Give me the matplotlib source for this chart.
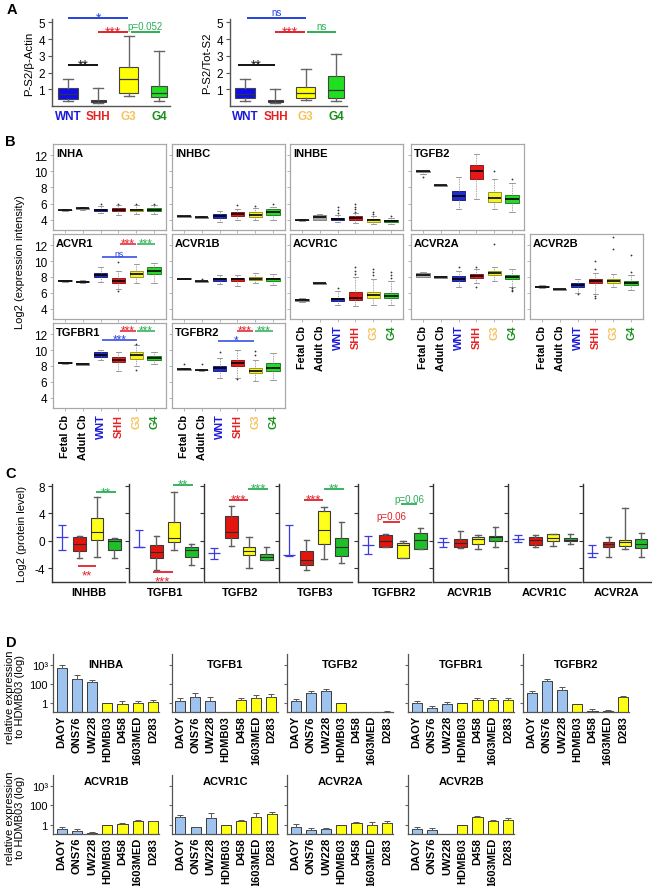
import numpy as np
import matplotlib
matplotlib.use('Agg')
import matplotlib.pyplot as plt
from matplotlib.transforms import offset_copy

plt.rcParams['font.family'] = ['Liberation Sans', 'DejaVu Sans']
plt.rcParams['axes.linewidth'] = 0.8

W, H = 652, 887
fig = plt.figure(figsize=(W / 100, H / 100), dpi=100)


def add_ax(x0, y0, x1, y1):
    return fig.add_axes([x0 / W, 1 - y1 / H, (x1 - x0) / W, (y1 - y0) / H])


def ftext(x, y, s, **kw):
    fig.text(x / W, 1 - y / H, s, **kw)


def to_stats(tuples, fliers=None):
    out = []
    for i, (lo, q1, med, q3, hi) in enumerate(tuples):
        fl = fliers[i] if fliers is not None else []
        out.append(dict(whislo=lo, q1=q1, med=med, q3=q3, whishi=hi,
                        fliers=np.array(fl, dtype=float)))
    return out


SIGC = {'black': '#111111', 'blue': '#2443e0', 'red': '#e3202a', 'green': '#2aae55'}


def sig(ax, x0, x1, y, text, color, fs=8, dy=-3, lw=1.2):
    c = SIGC[color]
    ax.plot([x0, x1], [y, y], color=c, lw=lw, clip_on=False, solid_capstyle='butt')
    tr = offset_copy(ax.transData, fig=fig, x=0, y=dy, units='points')
    ax.text((x0 + x1) / 2, y, text, color=c, fontsize=fs, ha='center', va='baseline',
            transform=tr, clip_on=False)


# ---------------------------------------------------------------- panel A data
A_groups = ['WNT', 'SHH', 'G3', 'G4']
A_label_colors = ['#1a1adb', '#e32424', '#f6c35b', '#1b8f1b']
A_box_colors = ['#0d0df0', '#9b1c1c', '#ffff00', '#1fe01f']
A_actin = [(0.30, 0.42, 0.72, 1.05, 1.62), (0.15, 0.25, 0.30, 0.36, 1.05),
           (0.60, 0.80, 1.62, 2.35, 4.20), (0.28, 0.55, 0.80, 1.20, 3.30)]
A_tot = [(0.30, 0.45, 0.72, 1.05, 1.62), (0.15, 0.25, 0.30, 0.36, 1.02),
         (0.35, 0.50, 0.75, 1.12, 2.22), (0.30, 0.50, 0.95, 1.80, 3.10)]
A_yticks = [1, 2, 3, 4, 5]
A_ylabels = ['P-S2/β-Actin', 'P-S2/Tot-S2']
A_sig_actin = [(1.0, 1.99, 2.45, '**', 'black'), (1.0, 2.99, 5.28, '*', 'blue'),
               (1.98, 2.99, 4.44, '***', 'red'), (3.06, 4.04, 4.44, 'p=0.052', 'green')]
A_sig_tot = [(0.75, 2.0, 2.45, '**', 'black'), (1.05, 3.02, 5.28, 'ns', 'blue'),
             (1.99, 2.98, 4.44, '***', 'red'), (3.04, 4.0, 4.44, 'ns', 'green')]

# ---------------------------------------------------------------- panel B data
B_groups = ['Fetal Cb', 'Adult Cb', 'WNT', 'SHH', 'G3', 'G4']
B_label_colors = ['black', 'black', '#1a1adb', '#e32424', '#f6c35b', '#1b8f1b']
B_box_colors = ['#b8b8b8', '#a8a8a8', '#1f2fcf', '#e81818', '#f2f224', '#2bd62b']
B_edge_colors = ['#777777', '#777777', '#10106e', '#7a0b0b', '#8a8a10', '#137013']
B_yticks = [4, 6, 8, 10, 12]

B_INHA = [(5.05, 5.15, 5.2, 5.25, 5.3), (5.25, 5.32, 5.4, 5.48, 5.55), (4.8, 5.05, 5.2, 5.35, 5.75),
          (4.6, 5.1, 5.25, 5.4, 5.85), (4.75, 5.1, 5.2, 5.35, 5.85), (4.7, 5.1, 5.25, 5.4, 5.85)]
B_INHBC = [(4.3, 4.35, 4.42, 4.47, 4.5), (4.15, 4.22, 4.3, 4.35, 4.4), (3.75, 4.17, 4.4, 4.7, 5.1),
           (3.9, 4.4, 4.65, 4.9, 5.3), (3.9, 4.3, 4.55, 4.9, 5.4), (4.0, 4.6, 4.9, 5.35, 5.6)]
B_INHBE = [(3.85, 3.9, 3.95, 4.0, 4.05), (3.9, 4.0, 4.3, 4.6, 4.7), (3.7, 3.9, 4.05, 4.25, 4.6),
           (3.6, 3.9, 4.15, 4.4, 4.8), (3.5, 3.75, 3.9, 4.05, 4.4), (3.5, 3.75, 3.85, 3.95, 4.2)]
B_TGFB2 = [(9.7, 9.9, 10.0, 10.05, 10.1), (8.15, 8.2, 8.25, 8.3, 8.35), (5.3, 6.5, 7.0, 7.6, 9.3),
           (6.6, 9.0, 10.05, 10.8, 12.1), (5.3, 6.2, 6.7, 7.5, 9.1), (5.0, 6.1, 6.6, 7.1, 8.5)]
B_ACVR1 = [(7.4, 7.48, 7.52, 7.58, 7.65), (7.25, 7.35, 7.42, 7.5, 7.6), (7.4, 7.95, 8.2, 8.55, 9.2),
           (6.5, 7.2, 7.5, 7.85, 8.7), (7.2, 8.05, 8.35, 8.7, 9.6), (7.2, 8.35, 8.7, 9.2, 9.8)]
B_ACVR1B = [(7.7, 7.75, 7.8, 7.85, 7.9), (7.35, 7.42, 7.45, 7.5, 7.55), (7.1, 7.5, 7.7, 7.85, 8.3),
            (6.9, 7.5, 7.7, 7.9, 8.3), (7.3, 7.6, 7.8, 8.0, 8.5), (7.0, 7.5, 7.7, 7.85, 8.4)]
B_ACVR1C = [(4.85, 4.95, 5.1, 5.2, 5.3), (7.15, 7.18, 7.2, 7.22, 7.25), (4.5, 5.0, 5.2, 5.4, 6.3),
            (4.4, 5.1, 5.4, 6.05, 8.0), (4.5, 5.4, 5.7, 6.1, 7.8), (4.5, 5.3, 5.65, 6.0, 7.5)]
B_ACVR2A = [(8.0, 8.05, 8.3, 8.55, 8.6), (7.85, 7.9, 8.0, 8.1, 8.15), (6.8, 7.5, 7.8, 8.1, 8.8),
            (7.2, 7.9, 8.1, 8.4, 9.0), (7.5, 8.2, 8.5, 8.75, 9.2), (6.8, 7.7, 8.0, 8.3, 9.0)]
B_ACVR2B = [(6.6, 6.7, 6.8, 6.9, 6.95), (6.35, 6.4, 6.45, 6.5, 6.55), (6.0, 6.7, 7.0, 7.2, 7.7),
            (5.9, 7.2, 7.5, 7.8, 8.5), (6.7, 7.2, 7.5, 7.8, 8.4), (6.4, 7.0, 7.2, 7.5, 8.3)]
B_TGFBR1 = [(8.3, 8.35, 8.4, 8.45, 8.5), (8.1, 8.18, 8.25, 8.32, 8.4), (8.7, 9.1, 9.4, 9.7, 10.0),
            (7.4, 8.5, 8.7, 9.1, 9.8), (8.0, 8.9, 9.35, 9.8, 10.6), (8.2, 8.8, 9.0, 9.3, 9.8)]
B_TGFBR2 = [(7.45, 7.5, 7.6, 7.65, 7.7), (7.4, 7.45, 7.5, 7.55, 7.6), (6.5, 7.4, 7.7, 8.0, 9.0),
            (6.5, 8.0, 8.4, 8.8, 10.0), (6.1, 7.1, 7.4, 7.8, 8.8), (6.2, 7.4, 7.8, 8.4, 9.6)]

B_INHA_out = [[], [], [5.9], [5.95], [5.95], [5.95]]
B_INHBC_out = [[], [], [], [5.8], [5.7], [5.95]]
B_INHBE_out = [[], [], [4.8, 5.2, 5.6], [5.0, 5.3, 5.6, 5.9], [4.7, 5.0], [4.4]]
B_TGFB2_out = [[9.3], [], [], [], [10.1], [9.0]]
B_ACVR1_out = [[], [], [], [9.9, 6.3], [], []]
B_ACVR1B_out = [[], [7.75], [], [], [], []]
B_ACVR1C_out = [[], [], [6.6], [8.4, 8.8, 9.2], [8.2, 8.6, 9.0], [7.9, 8.3, 8.6]]
B_ACVR2A_out = [[], [], [9.2], [9.3, 6.7], [12.2], [6.6, 6.4, 6.2]]
B_ACVR2B_out = [[], [], [5.8], [9.0, 10.0, 5.6, 5.4], [11.5, 13.0], [8.6, 10.8]]
B_TGFBR1_out = [[], [], [], [], [7.5, 10.8], []]
B_TGFBR2_out = [[8.2], [8.2], [9.8], [6.4], [9.9, 9.4], []]

B_genes = ['INHA', 'INHBC', 'INHBE', 'TGFB2', 'ACVR1', 'ACVR1B', 'ACVR1C', 'ACVR2A', 'ACVR2B',
           'TGFBR1', 'TGFBR2']
B_data = [B_INHA, B_INHBC, B_INHBE, B_TGFB2, B_ACVR1, B_ACVR1B, B_ACVR1C, B_ACVR2A, B_ACVR2B,
          B_TGFBR1, B_TGFBR2]
B_out = [B_INHA_out, B_INHBC_out, B_INHBE_out, B_TGFB2_out, B_ACVR1_out, B_ACVR1B_out,
         B_ACVR1C_out, B_ACVR2A_out, B_ACVR2B_out, B_TGFBR1_out, B_TGFBR2_out]
B_sig = [('ACVR1', 3.06, 5.03, 10.55, 'ns', 'blue'), ('ACVR1', 4.09, 4.97, 12.15, '***', 'red'),
         ('ACVR1', 5.05, 6.06, 12.15, '***', 'green'),
         ('TGFBR1', 3.06, 5.03, 11.25, '***', 'blue'), ('TGFBR1', 4.09, 4.97, 12.4, '***', 'red'),
         ('TGFBR1', 5.05, 6.06, 12.4, '***', 'green'),
         ('TGFBR2', 2.93, 4.95, 11.16, '*', 'blue'), ('TGFBR2', 3.95, 4.9, 12.4, '***', 'red'),
         ('TGFBR2', 5.0, 5.97, 12.4, '***', 'green')]

# ---------------------------------------------------------------- panel C data
C_genes = ['INHBB', 'TGFB1', 'TGFB2', 'TGFB3', 'TGFBR2', 'ACVR1B', 'ACVR1C', 'ACVR2A']
C_yticks = [-4, 0, 4, 8]
C_blue_top = [2.3, 1.6, -1.07, 2.3, 0.64, 0.35, 0.83, -0.63]
C_blue_mid = [0.5, -0.85, -1.8, -2.1, -0.63, -0.24, 0.25, -1.8]
C_blue_bot = [-1.3, -0.9, -2.7, -2.25, -1.95, -0.88, -0.2, -2.44]
C_SHH = [(-2.6, -1.46, -0.48, 0.5, 0.73), (-4.25, -2.58, -1.6, -0.58, 0.64),
         (-0.73, 0.4, 1.22, 3.57, 5.1), (-4.3, -3.56, -2.83, -1.46, 0.1),
         (-0.97, -0.97, 0.0, 0.83, 0.98), (-1.1, -0.97, -0.3, 0.25, 1.37),
         (-0.97, -0.58, 0.15, 0.5, 0.83), (-2.44, -0.97, -0.5, -0.15, 0.58)]
C_G3 = [(-2.44, 0.15, 1.22, 3.28, 6.35), (-1.36, -0.24, 0.35, 2.7, 7.2),
        (-4.05, -2.1, -1.46, -0.87, 0.5), (-2.68, -0.48, 1.56, 4.3, 4.9),
        (-2.53, -2.53, -0.6, -0.38, 0.0), (-1.2, -0.48, 0.25, 0.58, 0.83),
        (-0.73, -0.1, 0.4, 0.98, 1.0), (-1.2, -0.73, -0.2, 0.15, 4.74)]
C_G4 = [(-2.5, -1.3, -0.05, 0.25, 0.35), (-3.56, -2.44, -1.3, -0.97, -0.48),
        (-2.8, -2.78, -2.34, -1.95, -0.88), (-3.3, -2.2, -0.98, 0.4, 2.8),
        (-1.25, -1.22, 0.15, 1.13, 1.8), (-0.97, 0.0, 0.58, 0.73, 2.05),
        (-0.48, -0.1, 0.15, 0.4, 1.0), (-2.44, -1.07, -0.5, 0.25, 1.2)]
C_box_colors = ['#e3150f', '#ffff1a', '#1fbf2a']
C_sig = [(0, 1.9, 2.97, -3.75, '**', 'red', True), (0, 2.97, 4.1, 7.1, '**', 'green', False),
         (1, 1.8, 2.93, -4.6, '***', 'red', True), (1, 2.93, 4.07, 8.15, '**', 'green', False),
         (2, 1.87, 2.95, 6.0, '***', 'red', False), (2, 2.95, 4.08, 7.57, '***', 'green', False),
         (3, 1.85, 2.95, 6.0, '***', 'red', False), (3, 2.99, 4.12, 7.57, '**', 'green', False),
         (4, 1.87, 2.82, 2.78, 'p=0.06', 'red', False), (4, 2.91, 3.8, 5.37, 'p=0.06', 'green', False)]

# ---------------------------------------------------------------- panel D data
D_cells = ['DAOY', 'ONS76', 'UW228', 'HDMB03', 'D458', '1603MED', 'D283']
D_bar_colors = ['#9dc3ee', '#9dc3ee', '#9dc3ee', '#ffff14', '#ffff14', '#ffff14', '#ffff14']
D_yticks = [1, 100, 1e4]
D_yticklabels = ['1', '100', '10³']
nan = np.nan
D_genes_top = ['INHBA', 'TGFB1', 'TGFB2', 'TGFBR1', 'TGFBR2']
D_genes_bot = ['ACVR1B', 'ACVR1C', 'ACVR2A', 'ACVR2B']
D_INHBA = [4700, 320, 160, 1.0, 0.85, 1.0, 1.5]
D_INHBA_err = [10000, 800, 280, nan, 1.6, 1.65, 2.2]
D_TGFB1 = [1.6, 4.8, 1.6, nan, 2.2, 3.3, 4.2]
D_TGFB1_err = [3.5, 11.7, 4.2, nan, 3.5, 7.2, 9.1]
D_TGFB2 = [1.85, 10.7, 20, 1.0, nan, nan, 0.13]
D_TGFB2_err = [2.7, 17, 30, nan, nan, nan, 0.16]
D_TGFBR1 = [1.07, 0.33, 0.8, 1.0, 2.2, 2.2, 2.0]
D_TGFBR1_err = [1.6, 0.56, 1.5, nan, 3.2, 3.8, 3.2]
D_TGFBR2 = [10.7, 220, 26, 0.8, 0.17, 0.15, 4.8]
D_TGFBR2_err = [17, 316, 52, nan, 0.25, 0.22, 5.2]
D_ACVR1B = [0.39, 0.26, 0.16, 1.0, 1.17, 2.2, 2.2]
D_ACVR1B_err = [0.58, 0.39, 0.2, nan, 1.38, 2.8, 2.6]
D_ACVR1C = [5.8, 0.58, 4.9, 1.0, 2.2, 6.8, 12.6]
D_ACVR1C_err = [11, 0.63, 16, nan, 3.0, 16, 20]
D_ACVR2A = [0.58, 0.3, 0.35, 1.0, 1.38, 1.0, 1.5]
D_ACVR2A_err = [1.17, 0.52, 0.52, nan, 1.74, 1.9, 2.2]
D_ACVR2B = [0.39, 0.3, nan, 1.0, 6.2, 2.2, 3.3]
D_ACVR2B_err = [0.58, 0.45, nan, nan, 7.2, 3.5, 5.2]

# ================================================================= draw A
A_pos = [1, 2, 3, 4]
A_widths = [0.65, 0.52, 0.62, 0.55]
for k, (x0, x1, stats, sigs) in enumerate([(52, 170, A_actin, A_sig_actin),
                                           (230, 347, A_tot, A_sig_tot)]):
    ax = add_ax(x0, 20, x1, 107)
    bp = ax.bxp(to_stats(stats), positions=A_pos, widths=A_widths, patch_artist=True,
                showfliers=False, capwidths=0.33,
                boxprops=dict(edgecolor='#444444', linewidth=0.8),
                whiskerprops=dict(color='#666666', linewidth=1.0),
                capprops=dict(color='#666666', linewidth=1.0),
                medianprops=dict(color='#333333', linewidth=0.9))
    for p, c in zip(bp['boxes'], A_box_colors):
        p.set_facecolor(c)
    ax.set_xlim(0.47 if k == 0 else 0.5, 4.36)
    ax.set_ylim(0, 5.2)
    for s in ['top', 'right']:
        ax.spines[s].set_visible(False)
    for s in ['left', 'bottom']:
        ax.spines[s].set_color('#555555')
        ax.spines[s].set_linewidth(1.0)
    ax.set_yticks(A_yticks)
    ax.set_yticklabels([str(t) for t in A_yticks], fontsize=8.5)
    ax.tick_params(axis='y', length=3, color='#555555', pad=2)
    ax.set_xticks(A_pos)
    ax.set_xticklabels(A_groups, fontsize=8.5, fontweight='bold')
    ax.tick_params(axis='x', length=0, pad=3)
    for lbl, c in zip(ax.get_xticklabels(), A_label_colors):
        lbl.set_color(c)
    ax.set_ylabel(A_ylabels[k], fontsize=8.2, labelpad=3)
    for (sx0, sx1, sy, st, sc) in sigs:
        if '*' in st:
            sig(ax, sx0, sx1, sy, st, sc, fs=10, dy=-2.8, lw=1.4)
        else:
            sig(ax, sx0, sx1, sy, st, sc, fs=7, dy=2.0, lw=1.4)

# ================================================================= draw B
B_cols = [53, 172, 290, 411, 530]
B_rows = [(145, 231), (235, 320), (324, 409)]
B_grid = [(0, 0), (0, 1), (0, 2), (0, 3), (1, 0), (1, 1), (1, 2), (1, 3), (1, 4), (2, 0), (2, 1)]
B_pos = [1, 2, 3, 4, 5, 6]
for gi, gene in enumerate(B_genes):
    r, c = B_grid[gi]
    y0, y1 = B_rows[r]
    ax = add_ax(B_cols[c], y0, B_cols[c] + 113, y1)
    bp = ax.bxp(to_stats(B_data[gi], B_out[gi]), positions=B_pos, widths=0.75,
                patch_artist=True, showfliers=True, capwidths=0.3,
                boxprops=dict(linewidth=0.6),
                whiskerprops=dict(color='#8a8a8a', linewidth=0.6, linestyle=(0, (1, 1))),
                capprops=dict(color='#8a8a8a', linewidth=0.6),
                medianprops=dict(color='black', linewidth=1.2),
                flierprops=dict(marker='o', markersize=1.3, markerfacecolor='#333333',
                                markeredgecolor='none'))
    for p, fc, ec in zip(bp['boxes'], B_box_colors, B_edge_colors):
        p.set_facecolor(fc)
        p.set_edgecolor(ec)
    ax.set_xlim(0.33, 6.67)
    ax.set_ylim(2.72, 13.4)
    for s in ax.spines.values():
        s.set_color('#a8a8a8')
        s.set_linewidth(0.9)
    ax.set_yticks(B_yticks)
    ax.set_xticks(B_pos)
    ax.tick_params(axis='both', length=2, width=0.5, color='#999999', pad=2)
    if c == 0:
        ax.set_yticklabels([str(t) for t in B_yticks], fontsize=8.5)
    else:
        ax.set_yticklabels([])
    if (r == 2) or (r == 1 and c >= 2):
        ax.set_xticklabels(B_groups, rotation=90, fontsize=7.8, fontweight='bold')
        for lbl, col in zip(ax.get_xticklabels(), B_label_colors):
            lbl.set_color(col)
    else:
        ax.set_xticklabels([])
    ax.text(0.025, 0.95, gene, transform=ax.transAxes, fontsize=8, fontweight='bold',
            va='top', ha='left')
    for (sg, sx0, sx1, sy, st, sc) in B_sig:
        if sg == gene:
            if '*' in st:
                sig(ax, sx0, sx1, sy, st, sc, fs=8.5, dy=-1.7, lw=1.1)
            else:
                sig(ax, sx0, sx1, sy, st, sc, fs=6.3, dy=0.4, lw=1.1)
ftext(20, 262, 'Log2 (expression intensity)', rotation=90, fontsize=8,
      ha='center', va='center')

# ================================================================= draw C
C_spines = [52, 129, 204, 279, 358, 433, 508, 583]
for gi, gene in enumerate(C_genes):
    x0 = C_spines[gi]
    ax = add_ax(x0, 485, min(x0 + 73, 651), 582.7)
    stats = to_stats([C_SHH[gi], C_G3[gi], C_G4[gi]])
    bp = ax.bxp(stats, positions=[2, 3, 4], widths=0.72, patch_artist=True, showfliers=False,
                capwidths=0.33,
                boxprops=dict(edgecolor='#3a3a3a', linewidth=0.8),
                whiskerprops=dict(color='#606060', linewidth=1.0),
                capprops=dict(color='#606060', linewidth=1.0),
                medianprops=dict(color='#2a2a2a', linewidth=0.8))
    for p, fc in zip(bp['boxes'], C_box_colors):
        p.set_facecolor(fc)
    mid = C_blue_mid[gi]
    ax.errorbar([1], [mid], yerr=[[mid - C_blue_bot[gi]], [C_blue_top[gi] - mid]], fmt='none',
                ecolor='#3b3be6', elinewidth=0.9, capsize=3, capthick=0.9)
    ax.hlines(mid, 1 - 0.34, 1 + 0.34, color='#3b3be6', linewidth=0.9)
    ax.set_xlim(0.43, 4.6)
    ax.set_ylim(-6.0, 8.3)
    for s in ['top', 'right']:
        ax.spines[s].set_visible(False)
    for s in ['left', 'bottom']:
        ax.spines[s].set_color('#333333')
        ax.spines[s].set_linewidth(1.0)
    ax.set_xticks([])
    ax.set_yticks(C_yticks)
    ax.tick_params(axis='y', length=3, color='#333333', pad=2)
    if gi == 0:
        ax.set_yticklabels([str(t) for t in C_yticks], fontsize=8.5)
    else:
        ax.set_yticklabels([])
    ax.text(0.5, -0.11, gene, transform=ax.transAxes, fontsize=8, fontweight='bold',
            ha='center', va='center')
    for (sg, sx0, sx1, sy, st, sc, below) in C_sig:
        if sg == gi:
            if '*' in st:
                sig(ax, sx0, sx1, sy, st, sc, fs=9.5, dy=(-9.0 if below else -2.0), lw=1.3)
            else:
                sig(ax, sx0, sx1, sy, st, sc, fs=7, dy=1.8, lw=1.3)
ftext(22, 534, 'Log2 (protein level)', rotation=90, fontsize=8, ha='center', va='center')

# ================================================================= draw D
D_top_vals = [D_INHBA, D_TGFB1, D_TGFB2, D_TGFBR1, D_TGFBR2]
D_top_errs = [D_INHBA_err, D_TGFB1_err, D_TGFB2_err, D_TGFBR1_err, D_TGFBR2_err]
D_bot_vals = [D_ACVR1B, D_ACVR1C, D_ACVR2A, D_ACVR2B]
D_bot_errs = [D_ACVR1B_err, D_ACVR1C_err, D_ACVR2A_err, D_ACVR2B_err]
D_rows = [((655, 713.3), [53.3, 171.7, 287.3, 408.3, 523.3], D_genes_top, D_top_vals, D_top_errs, 10),
          ((776, 835), [53.3, 172, 287.3, 408.3], D_genes_bot, D_bot_vals, D_bot_errs, 6)]
xpos = np.arange(len(D_cells))
for (yy, spines, genes, vals_l, errs_l, tdy) in D_rows:
    for j, gene in enumerate(genes):
        ax = add_ax(spines[j], yy[0], spines[j] + 106, yy[1])
        ax.set_yscale('log')
        vals = np.array(vals_l[j], dtype=float)
        errs = np.array(errs_l[j], dtype=float)
        ok = np.isfinite(vals)
        ax.bar(xpos[ok], vals[ok], width=0.66, color=[D_bar_colors[i] for i in xpos[ok]],
               edgecolor='#3a3a3a', linewidth=0.7)
        eok = ok & np.isfinite(errs)
        ax.errorbar(xpos[eok], vals[eok], yerr=[np.zeros(eok.sum()), errs[eok] - vals[eok]],
                    fmt='none', ecolor='#555555', elinewidth=0.7, capsize=2, capthick=0.7)
        ax.set_xlim(-0.55, 6.42)
        ax.set_ylim(0.115, 1.25e5)
        for s in ['top', 'right']:
            ax.spines[s].set_visible(False)
        for s in ['left', 'bottom']:
            ax.spines[s].set_color('#555555')
            ax.spines[s].set_linewidth(0.9)
        ax.set_yticks(D_yticks)
        ax.yaxis.set_minor_locator(matplotlib.ticker.NullLocator())
        ax.tick_params(axis='y', length=2, color='#666666', pad=2)
        if j == 0:
            ax.set_yticklabels(D_yticklabels, fontsize=8)
        else:
            ax.set_yticklabels([])
        ax.set_xticks(xpos)
        ax.set_xticklabels(D_cells, rotation=90, fontsize=8, fontweight='bold')
        ax.tick_params(axis='x', length=0, pad=2)
        ax.text(0.5, 1 - tdy / (yy[1] - yy[0]), gene, transform=ax.transAxes, fontsize=8,
                fontweight='bold', ha='center', va='center')
for yc in [697, 818]:
    ftext(15, yc, 'relative expression\nto HDMB03 (log)', rotation=90, fontsize=8,
          ha='center', va='center', linespacing=1.05)

# ================================================================= panel letters
for (lx, ly, L) in [(11.5, 9.5, 'A'), (10.5, 142.5, 'B'), (11, 474, 'C'), (11, 643, 'D')]:
    ftext(lx, ly, L, fontsize=10.5, fontweight='bold', ha='center', va='center')

fig.savefig('out.png', dpi=100)
